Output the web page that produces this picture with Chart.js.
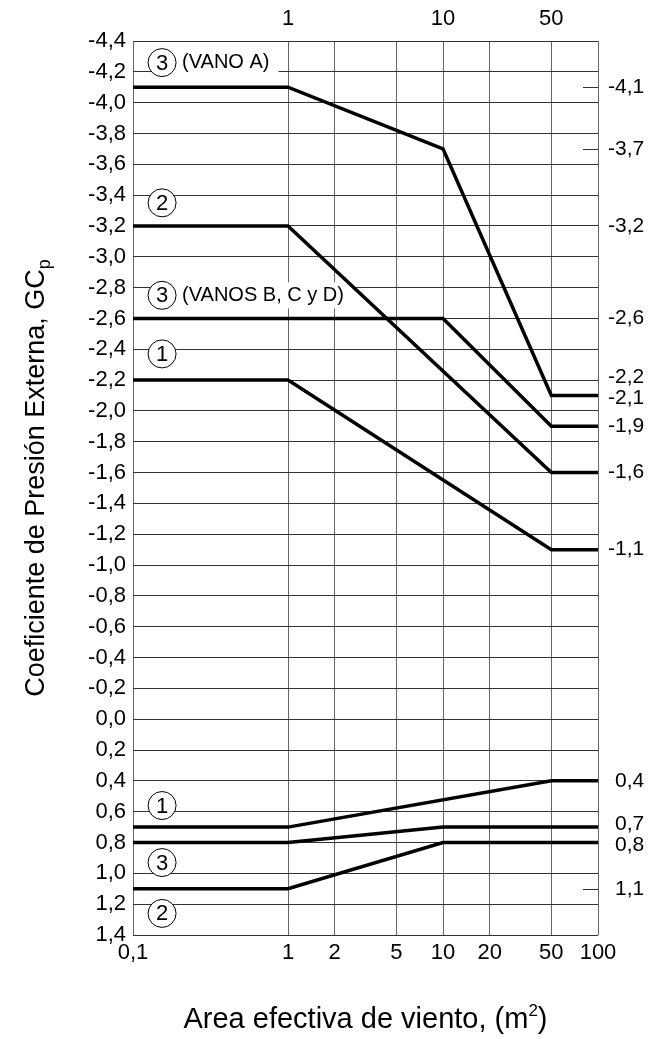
<!DOCTYPE html>
<html lang="es">
<head>
<meta charset="UTF-8">
<title>Coeficiente de Presión Externa, GCp</title>
<script src="https://cdn.jsdelivr.net/npm/chart.js"></script>
<style>
  html, body { margin: 0; padding: 0; background: #fff; }
  canvas { display: block; }
</style>
</head>
<body>
<canvas id="gcpChart" width="649" height="1039"></canvas>
<script>
// ticks del eje de area (m2)
const areaTicks = [0.1, 1, 2, 5, 10, 20, 50, 100];
const areaTopTicks = [1, 10, 50];

// curvas de succion (negativas)
const zona3A_area = [0.1, 1, 10, 50, 100];
const zona3A_gcp = [-4.1, -4.1, -3.7, -2.1, -2.1];
const zona2N_area = [0.1, 1, 50, 100];
const zona2N_gcp = [-3.2, -3.2, -1.6, -1.6];
const zona3BCD_area = [0.1, 10, 50, 100];
const zona3BCD_gcp = [-2.6, -2.6, -1.9, -1.9];
const zona1N_area = [0.1, 1, 50, 100];
const zona1N_gcp = [-2.2, -2.2, -1.1, -1.1];

// curvas de presion (positivas)
const zona1P_area = [0.1, 1, 50, 100];
const zona1P_gcp = [0.7, 0.7, 0.4, 0.4];
const zona3P_area = [0.1, 1, 10, 100];
const zona3P_gcp = [0.8, 0.8, 0.7, 0.7];
const zona2P_area = [0.1, 1, 10, 100];
const zona2P_gcp = [1.1, 1.1, 0.8, 0.8];

// valores escritos a la derecha del grafico
const rightValues = [-4.1, -3.7, -3.2, -2.6, -2.2, -2.1, -1.9, -1.6, -1.1, 0.4, 0.7, 0.8, 1.1];
const rightDashes = [-4.1, -3.7, 1.1];

// etiquetas de zona (numero en circulo)
const zoneNums = ['3', '2', '3', '1', '1', '3', '2'];
const zoneGcp = [-4.26, -3.35, -2.75, -2.37, 0.56, 0.93, 1.26];
const zoneNotes = ['(VANO A)', '', '(VANOS B, C y D)', '', '', '', ''];
const zoneArea = 0.154;

const FONT = '"Liberation Sans", Arial, Helvetica, sans-serif';

function fmt(v) {
    if (Math.abs(v) < 1e-9) v = 0;
    return v.toFixed(1).replace('.', ',');
}
function fmtArea(v) {
    return v < 1 ? String(v).replace('.', ',') : String(v);
}
function toPoints(xs, ys) {
    return xs.map((x, i) => ({ x: x, y: ys[i] }));
}
function lineSet(xs, ys) {
    return {
        data: toPoints(xs, ys),
        borderColor: '#000',
        borderWidth: 3.5,
        pointRadius: 0,
        tension: 0,
        fill: false,
        borderJoinStyle: 'miter'
    };
}

// Plugin para etiquetas de zona, valores de la derecha y titulos
const annotPlugin = {
    id: 'annotPlugin',
    beforeDatasetsDraw(chart) {
        const ctx = chart.ctx;
        const xs = chart.scales.x, ys = chart.scales.y;
        ctx.save();
        zoneNums.forEach((num, i) => {
            const px = xs.getPixelForValue(zoneArea);
            const py = ys.getPixelForValue(zoneGcp[i]);
            if (zoneNotes[i]) {
                ctx.font = '20px ' + FONT;
                const w = ctx.measureText(zoneNotes[i]).width;
                ctx.fillStyle = '#fff';
                ctx.fillRect(px, py - 13, 21 + w + 8, 26);
                ctx.fillStyle = '#000';
                ctx.textAlign = 'left';
                ctx.textBaseline = 'middle';
                ctx.fillText(zoneNotes[i], px + 20, py);
            }
            ctx.beginPath();
            ctx.arc(px, py, 14, 0, Math.PI * 2);
            ctx.fillStyle = '#fff';
            ctx.fill();
            ctx.lineWidth = 1;
            ctx.strokeStyle = '#000';
            ctx.stroke();
            ctx.fillStyle = '#000';
            ctx.font = '22px ' + FONT;
            ctx.textAlign = 'center';
            ctx.textBaseline = 'middle';
            ctx.fillText(num, px, py + 1);
        });
        ctx.restore();
    },
    afterDraw(chart) {
        const ctx = chart.ctx;
        const area = chart.chartArea;
        const ys = chart.scales.y;
        ctx.save();

        // marcas cortas
        ctx.strokeStyle = '#333';
        ctx.lineWidth = 1;
        rightDashes.forEach(v => {
            const py = Math.round(ys.getPixelForValue(v)) + 0.5;
            ctx.beginPath();
            ctx.moveTo(area.right - 15, py);
            ctx.lineTo(area.right, py);
            ctx.stroke();
        });

        // valores a la derecha, separando los que se solapan
        const pos = rightValues.map(v => ys.getPixelForValue(v));
        const minGap = 21;
        for (let i = 1; i < pos.length; i++) {
            const gap = pos[i] - pos[i - 1];
            if (gap < minGap) {
                const d = (minGap - gap) / 2;
                pos[i - 1] -= d;
                pos[i] += d;
            }
        }
        ctx.font = '21px ' + FONT;
        ctx.fillStyle = '#000';
        ctx.textAlign = 'left';
        ctx.textBaseline = 'middle';
        rightValues.forEach((v, i) => {
            const px = area.right + 10 + (v >= 0 ? 7 : 0);
            ctx.fillText(fmt(v), px, pos[i]);
        });

        // titulo eje Y
        const cy = (area.top + area.bottom) / 2 - 10;
        ctx.translate(44, cy);
        ctx.rotate(-Math.PI / 2);
        const mainTxt = 'Coeficiente de Presión Externa, GC';
        ctx.font = '27px ' + FONT;
        const w1 = ctx.measureText(mainTxt).width;
        ctx.font = '18px ' + FONT;
        const w2 = ctx.measureText('p').width;
        const x0 = -(w1 + w2) / 2;
        ctx.textAlign = 'left';
        ctx.textBaseline = 'alphabetic';
        ctx.font = '27px ' + FONT;
        ctx.fillText(mainTxt, x0, 0);
        ctx.font = '18px ' + FONT;
        ctx.fillText('p', x0 + w1, 6);
        ctx.setTransform(1, 0, 0, 1, 0, 0);

        // titulo eje X
        const xt1 = 'Area efectiva de viento, (m';
        ctx.font = '29px ' + FONT;
        const a1 = ctx.measureText(xt1).width;
        const a3 = ctx.measureText(')').width;
        ctx.font = '17px ' + FONT;
        const a2 = ctx.measureText('2').width;
        const cx = (area.left + area.right) / 2;
        const sx = cx - (a1 + a2 + a3) / 2;
        const by = 1028;
        ctx.font = '29px ' + FONT;
        ctx.fillText(xt1, sx, by);
        ctx.font = '17px ' + FONT;
        ctx.fillText('2', sx + a1, by - 12);
        ctx.font = '29px ' + FONT;
        ctx.fillText(')', sx + a1 + a2, by);
        ctx.restore();
    }
};

const ctx = document.getElementById('gcpChart').getContext('2d');
const gcpChart = new Chart(ctx, {
    type: 'line',
    data: {
        datasets: [
            lineSet(zona3A_area, zona3A_gcp),
            lineSet(zona2N_area, zona2N_gcp),
            lineSet(zona3BCD_area, zona3BCD_gcp),
            lineSet(zona1N_area, zona1N_gcp),
            lineSet(zona1P_area, zona1P_gcp),
            lineSet(zona3P_area, zona3P_gcp),
            lineSet(zona2P_area, zona2P_gcp)
        ]
    },
    options: {
        responsive: false,
        maintainAspectRatio: false,
        animation: false,
        layout: { padding: { left: 0, right: 51, top: 0, bottom: 0 } },
        plugins: {
            legend: { display: false },
            tooltip: { enabled: false }
        },
        scales: {
            x: {
                type: 'logarithmic',
                position: 'bottom',
                min: 0.1,
                max: 100,
                afterBuildTicks: (scale) => { scale.ticks = areaTicks.map(v => ({ value: v })); },
                afterFit: (scale) => { scale.height = 104; },
                grid: { color: '#666', lineWidth: 1, drawTicks: false },
                border: { display: false },
                ticks: {
                    autoSkip: false,
                    maxRotation: 0,
                    padding: 5,
                    color: '#000',
                    font: { family: FONT, size: 22 },
                    callback: (v) => fmtArea(v)
                }
            },
            x2: {
                type: 'logarithmic',
                position: 'top',
                min: 0.1,
                max: 100,
                afterBuildTicks: (scale) => { scale.ticks = areaTopTicks.map(v => ({ value: v })); },
                afterFit: (scale) => { scale.height = 41; },
                grid: { display: false, drawTicks: false },
                border: { display: false },
                ticks: {
                    autoSkip: false,
                    maxRotation: 0,
                    padding: 9,
                    color: '#000',
                    font: { family: FONT, size: 22 },
                    callback: (v) => fmtArea(v)
                }
            },
            y: {
                type: 'linear',
                reverse: true,
                min: -4.4,
                max: 1.4,
                afterBuildTicks: (scale) => {
                    const t = [];
                    for (let k = -22; k <= 7; k++) t.push({ value: k / 5 });
                    scale.ticks = t;
                },
                afterFit: (scale) => { scale.width = 133; },
                grid: { color: '#333', lineWidth: 1, drawTicks: false },
                border: { display: false },
                ticks: {
                    autoSkip: false,
                    padding: 7,
                    color: '#000',
                    font: { family: FONT, size: 22 },
                    callback: (v) => fmt(v)
                }
            }
        }
    },
    plugins: [annotPlugin]
});
</script>
</body>
</html>
